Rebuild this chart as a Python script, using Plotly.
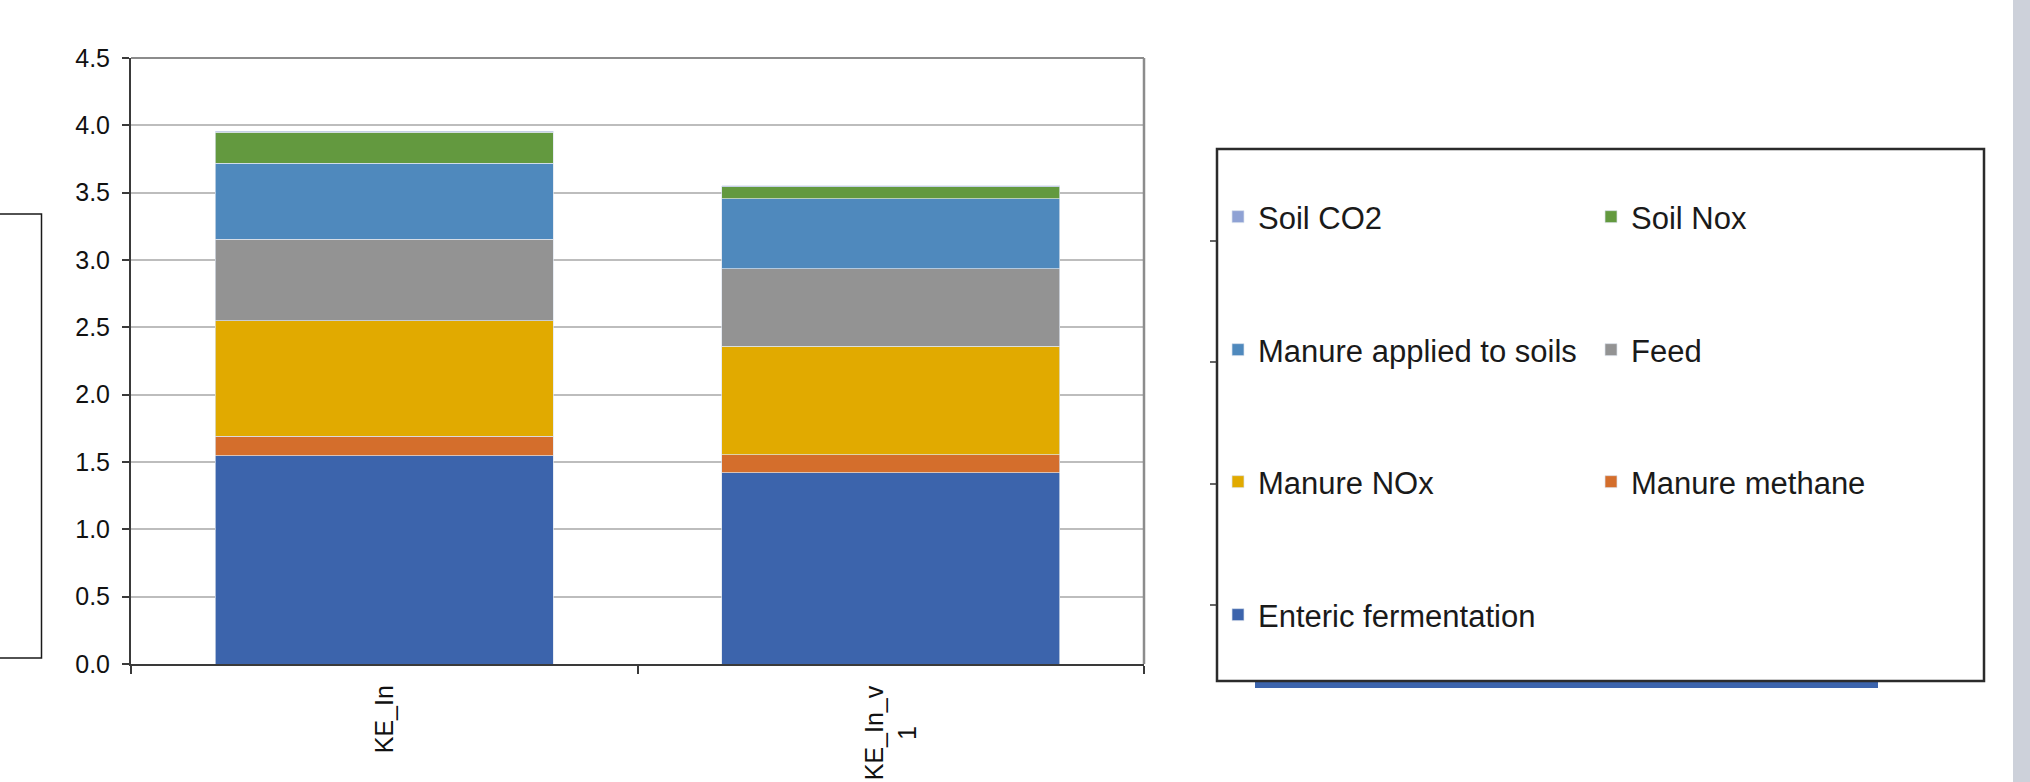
import plotly.graph_objects as go

# --- data -------------------------------------------------------------
categories = ["KE_In", "KE_In_v1"]
category_labels = ["KE_In", "KE_In_v<br>1"]

enteric_fermentation = [1.545, 1.42]
manure_methane = [0.145, 0.135]
manure_nox = [0.86, 0.805]
feed = [0.605, 0.575]
manure_applied = [0.565, 0.52]
soil_nox = [0.23, 0.09]
soil_co2 = [0.005, 0.005]

y_ticks = [0.0, 0.5, 1.0, 1.5, 2.0, 2.5, 3.0, 3.5, 4.0, 4.5]

series = [
    ("Enteric fermentation", enteric_fermentation, "#3c64ac", "legend4"),
    ("Manure methane", manure_methane, "#d46e2c", "legend3"),
    ("Manure NOx", manure_nox, "#e1aa00", "legend3"),
    ("Feed", feed, "#939393", "legend2"),
    ("Manure applied to soils", manure_applied, "#4f89bd", "legend2"),
    ("Soil Nox", soil_nox, "#63993f", "legend"),
    ("Soil CO2", soil_co2, "#8fa2d4", "legend"),
]

# --- page geometry (pixels) -------------------------------------------
W, H = 2030, 782
ML, MR, MT, MB = 131, 886, 58, 118
PW, PH = W - ML - MR, H - MT - MB


def px_x(x):
    return (x - ML) / PW


def px_y(y):
    return (H - MB - y) / PH


fig = go.Figure()
for name, vals, color, leg in series:
    fig.add_trace(go.Bar(
        x=categories, y=vals, name=name,
        marker=dict(color=color, line=dict(color="#dde4ee", width=0.7)),
        legend=leg,
    ))

FONT = "Liberation Sans, Arial, sans-serif"
leg_font = dict(family=FONT, size=31, color="#1a1a1a")
row_y = [217, 350, 482, 615]
legends = {}
for i, key in enumerate(["legend", "legend2", "legend3", "legend4"]):
    legends[key] = dict(
        orientation="h", traceorder="reversed",
        x=px_x(1218), xanchor="left",
        y=px_y(row_y[i]), yanchor="middle",
        font=leg_font, bgcolor="rgba(0,0,0,0)", borderwidth=0,
        entrywidth=328, entrywidthmode="pixels",
    )

shapes = [
    # framed panel at the left edge
    dict(type="rect", xref="paper", yref="paper",
         x0=px_x(-6), x1=px_x(41.5), y0=px_y(658), y1=px_y(214),
         line=dict(color="#1a1a1a", width=1.5)),
    # blue strip under the legend panel
    dict(type="rect", xref="paper", yref="paper",
         x0=px_x(1255), x1=px_x(1878), y0=px_y(688), y1=px_y(680),
         fillcolor="#3c64ac", line=dict(width=0)),
    # legend panel
    dict(type="rect", xref="paper", yref="paper",
         x0=px_x(1217), x1=px_x(1984), y0=px_y(681), y1=px_y(149),
         fillcolor="white", line=dict(color="#2b2b2b", width=2.5)),
    # grey strip at the right edge
    dict(type="rect", xref="paper", yref="paper",
         x0=px_x(2013), x1=px_x(2035), y0=px_y(790), y1=px_y(-10),
         fillcolor="#cdd1da", line=dict(width=0)),
    # top and right border of the plot area
    dict(type="line", xref="x domain", yref="y domain", x0=0, x1=1, y0=1, y1=1,
         line=dict(color="#8c8c8c", width=2), layer="above"),
    dict(type="line", xref="x domain", yref="y domain", x0=1, x1=1, y0=0, y1=1,
         line=dict(color="#8c8c8c", width=2.5), layer="above"),
]
for ty in [241, 362, 484, 605]:
    shapes.append(dict(type="line", xref="paper", yref="paper",
                       x0=px_x(1210), x1=px_x(1217), y0=px_y(ty), y1=px_y(ty),
                       line=dict(color="#333333", width=1.5)))

annotations = []
for cat, lab in zip(categories, category_labels):
    annotations.append(dict(
        x=cat, xref="x", y=0, yref="paper", yanchor="top", xanchor="center",
        yshift=-19, text=lab, textangle=-90, showarrow=False, align="center",
        font=dict(family=FONT, size=25, color="#111111"),
    ))

fig.update_layout(
    width=W, height=H,
    margin=dict(l=ML, r=MR, t=MT, b=MB, autoexpand=False),
    barmode="stack", bargap=0.333,
    paper_bgcolor="white", plot_bgcolor="white",
    showlegend=True,
    shapes=shapes, annotations=annotations,
    **legends,
)
fig.update_xaxes(
    type="category", categoryorder="array", categoryarray=categories,
    showticklabels=False, showgrid=False,
    showline=True, linecolor="#3a3a3a", linewidth=2,
    ticks="outside", tickson="boundaries", ticklen=8, tickcolor="#3a3a3a", tickwidth=1.5,
)
fig.update_yaxes(
    range=[0, 4.5], tickvals=y_ticks, tickformat=".1f",
    showgrid=True, gridcolor="#bdbdbd", gridwidth=2,
    showline=True, linecolor="#3a3a3a", linewidth=2,
    ticks="outside", ticklen=7, tickcolor="#3a3a3a", tickwidth=1.5,
    ticklabelstandoff=7,
    tickfont=dict(family=FONT, size=25, color="#111111"),
    zeroline=False,
)

fig.write_html("out.html")
